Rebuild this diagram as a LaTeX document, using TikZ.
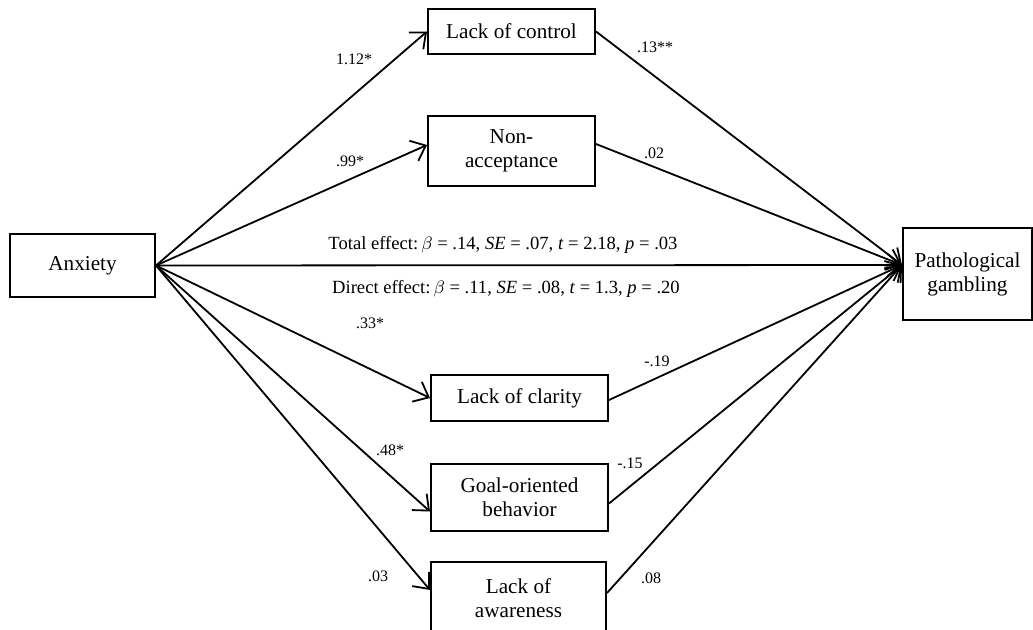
\documentclass[tikz,border=0pt]{standalone}
\usepackage{amsmath}
\usepackage{fontspec}
\setmainfont{Liberation Serif}
\usepackage{tikz}
\usetikzlibrary{positioning,arrows.meta}

\tikzset{
  box/.style={draw, line width=1pt, rectangle, inner sep=0pt, align=center,
              font=\fontsize{10.6}{12}\selectfont},
  coef/.style={font=\fontsize{8}{9}\selectfont, inner sep=0pt},
  path/.style={line width=0.9pt},
  >={Straight Barb[length=6.5pt,width=11pt,line width=0.9pt]}
}

\begin{document}
\begin{tikzpicture}[x=0.5pt, y=-0.5pt]
      \useasboundingbox (0,0) rectangle (1033,630);
      %\draw [dotted] (0,0) grid (1033,630);
      \node [box, minimum width=72.5pt, minimum height=31.5pt] (anx) at ( 82.5, 265.5) {Anxiety};
      \node [box, minimum width=83.5pt, minimum height=22.5pt] (loc) at (511.5,  31.5) {Lack of control};
      \node [box, minimum width=83.5pt, minimum height=35pt]   (nac) at (511.5, 151.0) {Non-\\acceptance};
      \node [box, minimum width=88.5pt, minimum height=23pt]   (lcl) at (519.5, 398.0) {Lack of clarity};
      \node [box, minimum width=88.5pt, minimum height=33.5pt] (gob) at (519.5, 497.5) {Goal-oriented\\behavior};
      \node [box, minimum width=87.5pt, minimum height=36pt]   (law) at (518.5, 598.0) {Lack of\\awareness};
      \node [box, minimum width=64.5pt, minimum height=46pt]   (pg)  at (967.5, 274.0) {Pathological\\gambling};
      \coordinate (pgin) at ([yshift=4.5pt]pg.west);
      % a paths
      \draw [path, ->] (anx.east) -- (loc.west);
      \draw [path, ->] (anx.east) -- ([yshift=3pt]nac.west);
      \draw [path, ->] (anx.east) -- (lcl.west);
      \draw [path, ->] (anx.east) -- ([yshift=-7pt]gob.west);
      \draw [path, ->] (anx.east) -- ([yshift=4pt]law.west);
      % b paths
      \draw [path, ->] (loc.east) -- (pgin);
      \draw [path, ->] ([yshift=3.5pt]nac.east) -- (pgin);
      \draw [path, ->] ([yshift=-1pt]lcl.east) -- (pgin);
      \draw [path, ->] ([yshift=-3pt]gob.east) -- (pgin);
      \draw [path, ->] ([yshift=2.5pt]law.east) -- (pgin);
      % c path
      \draw [path, ->] (anx.east) -- (pgin);
      % coefficients
      \node [coef] (a1) at (354,  59) {1.12*};
      \node [coef] (a2) at (350, 161) {.99*};
      \node [coef] (a3) at (370, 323) {.33*};
      \node [coef] (a4) at (390, 450) {.48*};
      \node [coef] (a5) at (378, 576) {.03};
      \node [coef] (b1) at (655,  47) {.13**};
      \node [coef] (b2) at (654, 153) {.02};
      \node [coef] (b3) at (657, 361) {-.19};
      \node [coef] (b4) at (630, 463) {-.15};
      \node [coef] (b5) at (651, 578) {.08};
      \node [coef, font=\fontsize{9.3}{11}\selectfont] (tot) at (503, 245)
            {Total effect:\,$\beta$ = .14, \textit{SE} = .07, \textit{t} = 2.18, \textit{p} = .03};
      \node [coef, font=\fontsize{9.3}{11}\selectfont] (dir) at (506, 289)
            {Direct effect:\,$\beta$ = .11, \textit{SE} = .08, \textit{t} = 1.3, \textit{p} = .20};
\end{tikzpicture}
\end{document}
